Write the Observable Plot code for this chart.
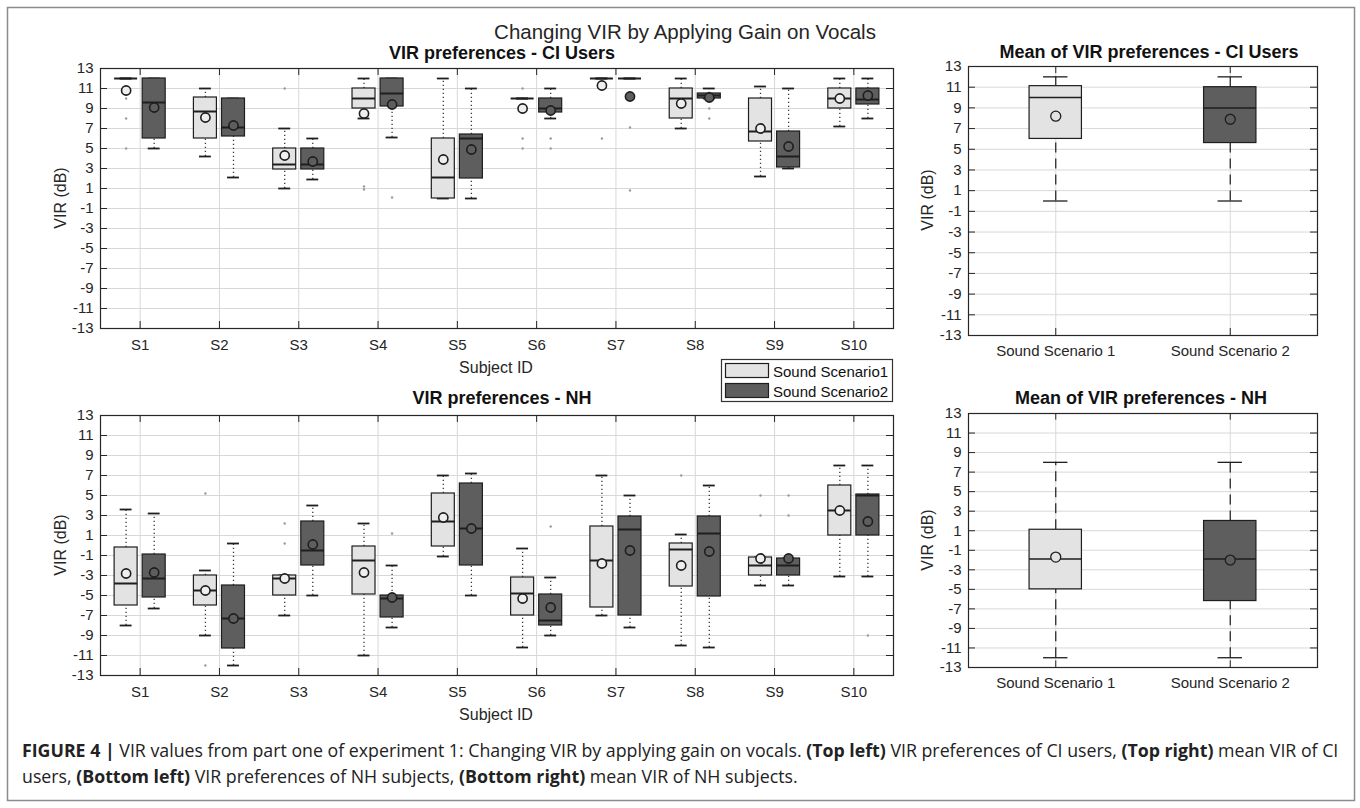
<!DOCTYPE html>
<html>
<head>
<meta charset="utf-8">
<script src="https://cdn.jsdelivr.net/npm/d3@7"></script>
<script src="https://cdn.jsdelivr.net/npm/@observablehq/plot@0.6"></script>
<style>
html,body{margin:0;padding:0;background:#fff;}
#fig{position:relative;width:1360px;height:808px;overflow:hidden;background:#fff;}
#fig > div.panel{position:absolute;}
#overlay{position:absolute;left:0;top:0;pointer-events:none;}
</style>
</head>
<body>
<div id="fig"></div>
<script>
// ---------------- DATA ----------------
const subjects = ["S1","S2","S3","S4","S5","S6","S7","S8","S9","S10"];
const scenarioNames = ["Sound Scenario 1", "Sound Scenario 2"];
const legendLabels = ["Sound Scenario1", "Sound Scenario2"];
const virTicks = [13, 11, 9, 7, 5, 3, 1, -1, -3, -5, -7, -9, -11, -13];

// each row: [lower whisker, Q1, median, Q3, upper whisker, mean]
const ciScenario1 = [
  [12, 12, 12, 12, 12, 10.8],
  [4.2, 6, 8.7, 10.1, 11, 8.1],
  [1, 2.9, 3.4, 5, 7, 4.3],
  [8, 9, 10, 11, 12, 8.5],
  [0, 0, 2.1, 6, 12, 3.9],
  [10, 10, 10, 10, 10, 9],
  [12, 12, 12, 12, 12, 11.3],
  [7, 8, 10, 11, 12, 9.5],
  [2.2, 5.7, 6.7, 10, 11.2, 7],
  [7.2, 9, 10, 11, 12, 10]
];
const ciScenario2 = [
  [5, 6, 9.6, 12, 12, 9.1],
  [2.1, 6.2, 7.1, 10, 10, 7.3],
  [1.9, 2.9, 3.4, 5, 6, 3.7],
  [6.1, 9.2, 10.5, 12, 12, 9.4],
  [0, 2, 6, 6.4, 11, 4.9],
  [8, 8.6, 9, 10, 11, 8.8],
  [12, 12, 12, 12, 12, 10.2],
  [10, 10, 10.3, 10.5, 11, 10.1],
  [3, 3.1, 4.2, 6.7, 11, 5.2],
  [8, 9.4, 9.9, 11, 12, 10.3]
];
const ciOutliers1 = [[10, 8, 5], [], [11], [1.2, 0.9], [], [11, 6, 5], [6], [], [], []];
const ciOutliers2 = [[], [], [], [0.1], [], [6, 5], [7.1, 0.8], [9, 8], [], []];

const nhScenario1 = [
  [-8, -6, -3.8, -0.2, 3.6, -2.8],
  [-9, -6, -4.5, -3, -2.5, -4.5],
  [-7, -5, -3.3, -3, -3, -3.3],
  [-11, -4.9, -1.5, -0.1, 2.2, -2.7],
  [-1.1, -0.1, 2.4, 5.2, 7, 2.8],
  [-10.2, -7, -4.8, -3.2, -0.3, -5.3],
  [-7, -6.2, -1.5, 1.9, 7, -1.8],
  [-10, -4.1, -0.4, 0.2, 1.1, -2],
  [-4, -3, -2, -1.2, -1.2, -1.3],
  [-3.1, 1, 3.5, 6, 8, 3.5]
];
const nhScenario2 = [
  [-6.3, -5.2, -3.3, -0.9, 3.2, -2.7],
  [-12, -10.3, -7.3, -4, 0.2, -7.3],
  [-5, -2, -0.5, 2.4, 4, 0.1],
  [-8.2, -7.2, -5.3, -5, -2, -5.2],
  [-5, -2, 1.7, 6.2, 7.2, 1.7],
  [-9, -8, -7.5, -4.9, -3.2, -6.2],
  [-8.2, -7, 1.6, 2.9, 5, -0.5],
  [-10.2, -5.1, 1.2, 2.9, 6, -0.6],
  [-4, -3, -2, -1.3, -1.3, -1.3],
  [-3.1, 1, 5, 5.1, 8, 2.4]
];
const nhOutliers1 = [[], [5.2, -12], [2.2, 0.2], [], [], [], [], [7], [5, 3], []];
const nhOutliers2 = [[], [], [], [1.2], [], [1.9], [], [], [5, 3], [-9]];

// overall (mean-of-preferences) panels: [lower whisker, Q1, median, Q3, upper whisker, mean]
const ciOverall1 = [0, 6, 10, 11.1, 12, 8.2];
const ciOverall2 = [0, 5.6, 9, 11, 12, 7.9];
const nhOverall1 = [-12, -5, -1.9, 1.1, 8, -1.7];
const nhOverall2 = [-12, -6.2, -1.9, 2, 8, -2];

// ---------------- DRAWING ----------------
const FONT = '"Liberation Sans", Arial, Helvetica, sans-serif';
const FILL1 = "#e3e3e3", FILL2 = "#5e5e5e";
const INK = "#1e1e1e";
const GRID = "#d8d8d8";
const subjectPos = subjects.map((_, i) => i + 1);
const scenarioPos = scenarioNames.map((_, i) => i + 1);

function toRows(stats, positions, offset) {
  return stats.map((s, i) => ({x: positions[i] + offset, lo: s[0], q1: s[1], med: s[2], q3: s[3], hi: s[4], mean: s[5]}));
}
function toOutliers(outs, positions, offset) {
  return outs.flatMap((vals, i) => vals.map(v => ({x: positions[i] + offset, y: v})));
}

function boxMarks(rows, outs, st) {
  return [
    Plot.ruleX(rows, {x: "x", y1: "lo", y2: "q1", stroke: st.whisker, strokeWidth: st.whiskerWidth, strokeDasharray: st.dash}),
    Plot.ruleX(rows, {x: "x", y1: "q3", y2: "hi", stroke: st.whisker, strokeWidth: st.whiskerWidth, strokeDasharray: st.dash}),
    Plot.ruleY(rows, {y: "lo", x1: d => d.x - st.cap, x2: d => d.x + st.cap, stroke: INK, strokeWidth: st.capWidth}),
    Plot.ruleY(rows, {y: "hi", x1: d => d.x - st.cap, x2: d => d.x + st.cap, stroke: INK, strokeWidth: st.capWidth}),
    Plot.rect(rows.filter(d => d.q3 > d.q1), {x1: d => d.x - st.half, x2: d => d.x + st.half, y1: "q1", y2: "q3", fill: st.fill, stroke: INK, strokeWidth: st.boxWidth}),
    Plot.ruleY(rows, {y: "med", x1: d => d.x - st.half, x2: d => d.x + st.half, stroke: INK, strokeWidth: st.medWidth}),
    Plot.dot(outs, {x: "x", y: "y", r: 1.2, fill: "#9a9a9a"}),
    Plot.dot(rows, {x: "x", y: "mean", r: st.r, fill: st.meanFill, stroke: INK, strokeWidth: st.meanStroke})
  ];
}

function panel(cfg) {
  const [x0, x1] = cfg.xDomain;
  return Plot.plot({
    width: cfg.width, height: cfg.height,
    marginLeft: cfg.ml, marginRight: cfg.mr, marginTop: cfg.mt, marginBottom: cfg.mb,
    x: {domain: cfg.xDomain},
    y: {domain: [-13, 13]},
    style: {fontFamily: FONT, fontSize: "15px", color: "#262626", background: "transparent", overflow: "visible"},
    marks: [
      Plot.gridY(virTicks, {stroke: GRID, strokeOpacity: 1}),
      Plot.gridX(cfg.xTicks, {stroke: GRID, strokeOpacity: 1}),
      ...cfg.marks,
      Plot.frame({stroke: "#262626", strokeWidth: 1.2}),
      Plot.ruleY(virTicks.slice(1, -1), {y: d => d, x1: () => x0, x2: () => x0 + cfg.tickX, stroke: "#262626"}),
      Plot.ruleY(virTicks.slice(1, -1), {y: d => d, x1: () => x1 - cfg.tickX, x2: () => x1, stroke: "#262626"}),
      Plot.ruleX(cfg.xTicks, {x: d => d, y1: () => 13, y2: () => 13 - cfg.tickY, stroke: "#262626"}),
      Plot.ruleX(cfg.xTicks, {x: d => d, y1: () => -13, y2: () => -13 + cfg.tickY, stroke: "#262626"}),
      Plot.axisY(virTicks, {tickSize: 0, tickPadding: 7, tickFormat: d => String(d), label: null}),
      Plot.axisX(cfg.xTicks, {tickSize: 0, tickPadding: cfg.xPad, tickFormat: cfg.xFormat, label: null})
    ]
  });
}

const leftStyle1 = {whisker: "#3a3a3a", whiskerWidth: 1.3, dash: "1.3,2.7", cap: 0.075, capWidth: 1.8, half: 0.145, fill: FILL1, boxWidth: 1.2, medWidth: 2, r: 4.6, meanFill: "#efefef", meanStroke: 1.6};
const leftStyle2 = {...leftStyle1, fill: FILL2, meanFill: FILL2};
const rightStyle1 = {whisker: INK, whiskerWidth: 1.2, dash: "10,6", cap: 0.07, capWidth: 1.3, half: 0.15, fill: FILL1, boxWidth: 1.2, medWidth: 1.5, r: 5, meanFill: FILL1, meanStroke: 1.3};
const rightStyle2 = {...rightStyle1, fill: FILL2, meanFill: FILL2};

const OFF = 0.177;
function subjectPanel(s1, s2, o1, o2) {
  return panel({
    width: 905, height: 300, ml: 100, mr: 12, mt: 8, mb: 32,
    xDomain: [0.5, 10.5], xTicks: subjectPos, xFormat: d => subjects[d - 1], xPad: 11,
    tickX: 0.088, tickY: 0.7,
    marks: [
      ...boxMarks(toRows(s1, subjectPos, -OFF), toOutliers(o1, subjectPos, -OFF), leftStyle1),
      ...boxMarks(toRows(s2, subjectPos, OFF), toOutliers(o2, subjectPos, OFF), leftStyle2)
    ]
  });
}
function overallPanel(a, b, height, mb) {
  return panel({
    width: 430, height, ml: 68, mr: 13, mt: 8, mb,
    xDomain: [0.5, 2.5], xTicks: scenarioPos, xFormat: d => scenarioNames[d - 1], xPad: 10,
    tickX: 0.04, tickY: 0.68,
    marks: [
      ...boxMarks(toRows([a], [scenarioPos[0]], 0), [], rightStyle1),
      ...boxMarks(toRows([b], [scenarioPos[1]], 0), [], rightStyle2)
    ]
  });
}

const fig = document.getElementById("fig");
function place(node, left, top) {
  const d = document.createElement("div");
  d.className = "panel";
  d.style.left = left + "px";
  d.style.top = top + "px";
  d.appendChild(node);
  fig.appendChild(d);
}
place(subjectPanel(ciScenario1, ciScenario2, ciOutliers1, ciOutliers2), 0, 60);
place(subjectPanel(nhScenario1, nhScenario2, nhOutliers1, nhOutliers2), 0, 407);
place(overallPanel(ciOverall1, ciOverall2, 310, 33), 900, 58);
place(overallPanel(nhOverall1, nhOverall2, 310, 48), 900, 405);

// ---------------- TEXT / FRAME OVERLAY ----------------
const svg = d3.select(fig).append("svg").attr("id", "overlay")
  .attr("width", 1360).attr("height", 808).style("font-family", FONT);

svg.append("rect").attr("x", 7.5).attr("y", 7.5).attr("width", 1347).attr("height", 793)
  .attr("fill", "none").attr("stroke", "#8c8c8c").attr("stroke-width", 1.5);

function txt(x, y, s, o = {}) {
  const t = svg.append("text").attr("x", x).attr("y", y)
    .attr("font-size", o.size || 15).attr("font-weight", o.weight || "normal")
    .attr("text-anchor", o.anchor || "middle").attr("fill", o.fill || "#262626").text(s);
  if (o.rotate) t.attr("transform", `rotate(${o.rotate},${x},${y})`);
  return t;
}
txt(685, 39, "Changing VIR by Applying Gain on Vocals", {size: 20.5});
txt(502, 59, "VIR preferences - CI Users", {size: 18, weight: "bold", fill: "#111"});
txt(1149, 58, "Mean of VIR preferences - CI Users", {size: 18, weight: "bold", fill: "#111"});
txt(502, 404, "VIR preferences - NH", {size: 18, weight: "bold", fill: "#111"});
txt(1141, 404, "Mean of VIR preferences - NH", {size: 18, weight: "bold", fill: "#111"});
txt(496, 373, "Subject ID", {size: 16});
txt(496, 720, "Subject ID", {size: 16});
txt(66, 198, "VIR (dB)", {size: 16, rotate: -90});
txt(66, 545, "VIR (dB)", {size: 16, rotate: -90});
txt(933, 200, "VIR (dB)", {size: 16, rotate: -90});
txt(933, 540, "VIR (dB)", {size: 16, rotate: -90});

// legend
const lg = svg.append("g");
lg.append("rect").attr("x", 721.5).attr("y", 359.5).attr("width", 171).attr("height", 42)
  .attr("fill", "#fff").attr("stroke", "#333").attr("stroke-width", 1.2);
[FILL1, FILL2].forEach((c, i) => {
  lg.append("rect").attr("x", 725.5).attr("y", 363.5 + i * 20).attr("width", 43).attr("height", 14)
    .attr("fill", c).attr("stroke", INK).attr("stroke-width", 1.2);
  txt(773, 377 + i * 20, legendLabels[i], {size: 15, anchor: "start", fill: "#111"});
});

// caption
const CAP = '"Open Sans", "Noto Sans", sans-serif';
function caption(y, parts) {
  const t = svg.append("text").attr("x", 22).attr("y", y).attr("font-size", 17.75)
    .attr("fill", "#222").style("font-family", CAP).style("white-space", "pre");
  parts.forEach(([s, b]) => t.append("tspan").attr("font-weight", b ? "bold" : "normal").text(s));
}
caption(757, [["FIGURE 4 |", true], [" VIR values from part one of experiment 1: Changing VIR by applying gain on vocals. ", false],
  ["(Top left)", true], [" VIR preferences of CI users, ", false], ["(Top right)", true], [" mean VIR of CI", false]]);
caption(783, [["users, ", false], ["(Bottom left)", true], [" VIR preferences of NH subjects, ", false],
  ["(Bottom right)", true], [" mean VIR of NH subjects.", false]]);
</script>
</body>
</html>
